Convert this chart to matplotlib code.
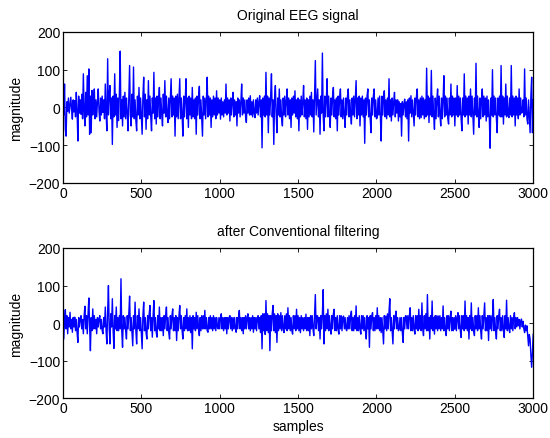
import matplotlib
matplotlib.use("Agg")
import matplotlib.pyplot as plt
import numpy as np

plt.rcParams['font.family'] = ['Liberation Sans', 'DejaVu Sans']

# Original EEG signal, values every ~5 samples (0..3000)
orig_values = [
    10, -20, 62, -58, -76, 15, -10, 25, -15, 5, 27, -5, -31, 20, -12, 18, -25, 40, -10, -89,
    30, -15, 20, -18, 35, -30, 89, -10, -49, 40, -25, 84, -20, 102, -71, 30, -67, 45, -20, 25,
    49, -30, 20, -25, 15, 49, -10, -36, 25, -20, 30, -13, 20, -30, 62, -15, -62, 129, -20, 35,
    58, -30, 25, -98, 30, -25, 89, -20, 35, -53, 25, -35, 40, 149, -30, 20, -49, 30, -25, 40,
    -30, 25, -15, -62, 30, 111, -20, -49, 35, -25, 107, -30, 20, -35, -62, 30, -20, 53, -30, 25,
    -25, -71, 30, 80, -25, 35, -58, 20, -30, 71, -20, 30, -25, -62, 25, -15, 93, -30, 25, -44,
    30, -25, 20, 53, -30, 25, -20, -49, 35, -15, 71, -25, 30, -20, -40, 25, -30, 20, 76, -25,
    30, -20, 25, -76, 30, -25, 35, -30, 20, 76, -30, 25, -20, -76, 30, -25, 20, 76, -30, 25,
    -53, 30, -20, 25, -30, 53, -25, 20, -30, 25, -71, 30, -20, 25, 56, -30, 20, -25, -76, 30,
    -20, 25, -30, 20, 80, -25, 30, -20, 25, -53, 20, -25, 30, -20, 25, -30, 44, -20, 25, -15,
    20, -31, 25, -20, 15, -25, 20, -15, 62, -20, 25, -15, 20, -36, 25, -20, 15, 40, -25, 20,
    -20, 15, -49, 25, -15, 20, -25, 15, 62, -20, 25, -15, 20, -25, -40, 20, -15, 25, -20, 31,
    -20, 15, -25, 20, -15, -27, 20, -15, 25, -20, 15, 31, -25, 20, -107, 25, -20, 30, -25, 93,
    -20, 30, -67, 25, -20, 30, 89, -25, 20, -98, 25, 58, -20, -67, 25, -20, 49, -25, 20, -30,
    -49, 25, -20, 30, -25, 15, 49, -20, 25, -30, 20, -53, 25, -20, 30, -15, 44, -25, 20, -30,
    25, -62, 20, -25, 30, -20, 15, 58, -25, 20, -30, 25, -58, 20, -25, 30, -20, 40, -25, 20,
    -65, 25, 124, -20, 15, 49, -25, 20, -71, 30, -15, 144, -20, -62, 30, -25, 20, 76, -25, 30,
    -20, -53, 25, -20, 30, 53, -25, 20, -30, 25, -62, 30, -20, 25, 49, -25, 20, -30, 25, -20,
    -53, 25, -20, 30, 49, -25, 20, -15, -44, 25, -20, 30, -25, 20, 71, -30, 25, -20, 30, -49,
    25, -20, 30, -25, 20, -95, 25, -20, 30, 49, -25, 20, -30, -67, 25, -20, 30, 49, -25, 20,
    -30, -27, 25, -20, 30, -25, -89, 30, -20, 25, 44, -25, 20, -30, 25, -20, 76, -25, 20, -36,
    25, -20, 15, 40, -25, 20, -15, 20, -36, 15, -25, 10, -76, 15, -20, 10, 22, -25, 15, -30,
    20, -89, 25, -15, 31, -25, 20, -15, -49, 25, -20, 30, 49, -25, 20, -30, 25, -27, 30, -20,
    25, -30, 20, -25, 104, -20, 30, -40, 25, -20, 98, -25, 30, -20, -58, 25, -30, 20, 49, -25,
    30, -20, -49, 25, -30, 20, 84, -25, 30, -20, 25, -30, -44, 25, -20, 62, -25, 30, -20, 25,
    -49, 25, -20, 58, -25, 30, -20, 25, -30, -62, 25, -20, 89, -25, 30, -20, 25, -44, 30, -20,
    49, -25, 30, -20, -71, 25, -20, 117, -25, 30, -20, -53, 25, -30, 20, 49, -25, 30, -20, 25,
    -36, 30, -25, 20, -30, -108, 25, -20, 100, -25, 30, -20, 25, -30, -67, 25, -20, 30, -25, 111,
    -25, 30, -44, 25, -20, 62, -25, 30, -20, -27, 25, -20, 111, -25, 30, -20, 25, -49, 30, -20,
    25, -30, 49, -20, 25, -15, -13, 20, -25, 102, -20, 25, -30, -44, 20, -25, -67, 30, 80, -67,
    20,
]

# After conventional filtering, read the same way
filt_values = [
    16, -42, 10, 36, -15, 20, -28, 15, -10, 29, -15, 10, -24, 15, -10, 16, -20, 10, -25, -51,
    15, -10, 12, 20, -15, 10, -28, 20, 45, -15, 20, -28, 25, 67, -10, -73, 15, -20, 38, -15,
    20, -15, 10, -28, 15, -10, 12, 20, -15, 10, -20, -28, 15, -10, 43, -20, -55, 30, 100, -15,
    -55, 25, -10, 65, -20, -67, 20, -15, 43, -20, 15, -20, 20, -15, 118, -20, -64, 20, -15, 16,
    -20, -42, 20, -15, 25, 72, -20, 15, -25, -60, 20, -15, 56, -20, -55, 20, -15, 38, -20, 15,
    -25, -68, 20, 56, -20, 15, -25, -42, 20, -15, 25, 47, -20, 15, -37, 20, 60, -20, 15, -25,
    -37, 20, -15, 43, -20, 15, -20, 15, -33, 20, -15, 20, 43, -20, 15, -25, -42, 20, -15, 20,
    38, -20, 15, -20, 20, -46, 15, -20, 20, 47, -15, 20, -20, -42, 15, -20, 20, -15, 38, -20,
    15, -20, 20, -25, 15, -68, 20, -15, 15, -20, 29, -15, 20, -15, -33, 15, -20, 20, -15, 20,
    -15, 34, -15, 15, -20, -24, 15, -15, 20, -15, 15, -20, 20, -15, 15, -20, 15, -10, -15, 15,
    -15, 15, 25, -15, 15, -20, 15, -15, 15, -28, 15, -15, 15, 20, -15, 15, -20, 15, -15, 15,
    -15, -24, 15, -15, 15, 34, -15, 15, -20, 15, -28, 15, -15, 20, -15, 15, 25, -15, 15, -20,
    15, -15, 20, -24, 15, -15, 15, -20, 15, 20, -15, 15, -25, 20, -68, 25, -20, 25, -30, 60,
    -20, 25, -25, 20, -73, 20, -20, 25, 47, -20, 25, -25, 20, -51, 25, -20, 20, -15, 28, -20,
    20, -15, -25, 20, -15, 25, -20, 41, -15, 20, -20, 15, -20, -29, 20, -15, 20, -20, 37, -15,
    20, -20, 15, -25, 20, -15, 15, -20, 15, -15, 24, -20, 15, -20, 15, -33, 20, -15, 20, -15,
    -33, 20, 76, -15, 20, 19, -20, 15, -42, 20, -15, 25, 89, -55, 20, -20, 25, -15, 37, -20,
    20, -15, -29, 20, -15, 25, 37, -20, 15, -20, 20, -15, -29, 20, -15, 20, -20, 15, 19, -15,
    15, -15, -20, 15, -15, 20, -15, 20, 32, -20, 15, -20, 20, -15, 46, -20, 15, -20, 20, -15,
    -29, 20, -15, 20, -20, 15, -20, -42, 20, -15, 15, -64, 20, -15, 20, 28, -20, 15, -20, 20,
    -15, 41, -15, 20, -20, 15, -25, 15, -20, -55, 20, -15, 19, -20, 25, -15, 30, 65, -20, 15,
    -20, -55, 20, -15, 20, 32, -15, 15, -20, -16, 15, -20, 15, -25, -51, 15, -15, 20, 19, -15,
    20, -15, 20, 41, -20, 15, -20, 20, -15, -29, 20, -15, 20, -20, 37, -15, 20, -20, 54, -15,
    -33, 20, -15, 25, -20, 76, -20, 15, -42, 20, -15, 59, -20, 15, -29, 20, -15, 20, -20, 19,
    -15, 20, -20, 15, -15, 46, -20, 15, -20, -33, 20, -15, 20, -20, 15, 32, -20, 15, -20, 15,
    -16, 20, -20, 15, 28, -15, 20, -20, -38, 20, -15, 20, -20, 59, -15, 20, -20, 15, -42, 20,
    -15, 54, -20, 15, -20, -33, 20, -15, 20, -20, 41, -15, 20, -20, -42, 20, -15, 20, 54, -20,
    15, -20, 20, -46, 20, -15, 20, -20, 15, 63, -20, 15, -20, -42, 20, -15, 20, 37, -20, 15,
    -20, 20, -15, -38, 20, -15, 61, -20, 15, -15, -25, 20, -15, 15, -20, 15, 28, -15, 15, -10,
    15, -7, 10, -15, 5, 11, -10, 5, -15, -25, -5, -20, -7, -35, -60, -30, -42, -85, -117, -77,
    -29,
]

titles = ["Original EEG signal", "after Conventional filtering"]
xticks = [0, 500, 1000, 1500, 2000, 2500, 3000]
yticks = [-200, -100, 0, 100, 200]

fig = plt.figure(figsize=(5.5, 4.39), dpi=100)
ax1 = fig.add_axes([0.1145, 0.581, 0.855, 0.344])
ax2 = fig.add_axes([0.1145, 0.090, 0.855, 0.343])

for ax, vals, title in [(ax1, orig_values, titles[0]), (ax2, filt_values, titles[1])]:
    xs = np.linspace(0, 3000, len(vals))
    ax.plot(xs, vals, color='#0000ff', linewidth=1.0)
    ax.set_xlim(0, 3000)
    ax.set_ylim(-200, 200)
    ax.set_xticks(xticks)
    ax.set_yticks(yticks)
    ax.tick_params(direction='in', length=3, width=0.6, labelsize=10,
                   top=True, right=True, pad=2)
    ax.set_title(title, fontsize=10, pad=9)
    ax.set_ylabel("magnitude", fontsize=10, labelpad=4)
    for s in ax.spines.values():
        s.set_linewidth(0.9)

ax2.set_xlabel("samples", fontsize=10, labelpad=3)

fig.savefig("out.png", dpi=100)
